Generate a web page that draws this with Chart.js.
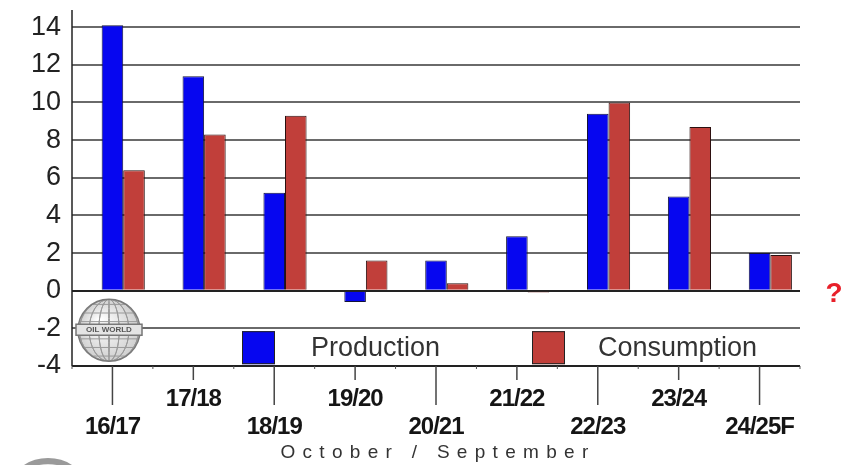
<!DOCTYPE html>
<html>
<head>
<meta charset="utf-8">
<title>Production and Consumption</title>
<script src="https://cdn.jsdelivr.net/npm/chart.js@4.4.1/dist/chart.umd.min.js"></script>
<style>
  html, body { margin: 0; padding: 0; background: #fff; }
  #wrap { position: relative; width: 846px; height: 465px; }
</style>
</head>
<body>
<div id="wrap"><canvas id="chart"></canvas></div>
<script>
// seasons (Oct/Sep) and year-on-year change, mn t
const seasons = ['16/17', '17/18', '18/19', '19/20', '20/21', '21/22', '22/23', '23/24', '24/25F'];
const production = [14.1, 11.4, 5.2, -0.6, 1.6, 2.9, 9.4, 5.0, 2.0];
const consumption = [6.4, 8.3, 9.3, 1.6, 0.4, -0.1, 10.0, 8.7, 1.9];
const yTicks = [-4, -2, 0, 2, 4, 6, 8, 10, 12, 14];
const xTitle = 'October / September';

const BLUE = '#0606f0';
const RED = '#c13f3a';
const FONT = '"Liberation Sans", Arial, sans-serif';

function drawGlobe(ctx, cx, cy, r) {
  ctx.save();
  const g = ctx.createRadialGradient(cx - r * 0.3, cy - r * 0.3, 2, cx, cy, r);
  g.addColorStop(0, '#ffffff');
  g.addColorStop(1, '#cfcfcf');
  ctx.fillStyle = g;
  ctx.beginPath();
  ctx.arc(cx, cy, r, 0, Math.PI * 2);
  ctx.fill();
  ctx.clip();
  ctx.strokeStyle = '#999';
  ctx.lineWidth = 1;
  for (let k = -3; k <= 3; k++) {
    ctx.beginPath();
    ctx.ellipse(cx, cy, Math.abs(k) * r / 3.2 + 0.5, r, 0, 0, Math.PI * 2);
    ctx.stroke();
    ctx.beginPath();
    ctx.moveTo(cx - r, cy + k * r / 3.6);
    ctx.lineTo(cx + r, cy + k * r / 3.6);
    ctx.stroke();
  }
  ctx.restore();
  ctx.save();
  ctx.strokeStyle = '#7a7a7a';
  ctx.lineWidth = 1.5;
  ctx.beginPath();
  ctx.arc(cx, cy, r, 0, Math.PI * 2);
  ctx.stroke();
  // banner across the middle
  ctx.fillStyle = '#e4e4e4';
  ctx.fillRect(cx - r - 2, cy - 6, 2 * r + 4, 11);
  ctx.strokeStyle = '#777';
  ctx.strokeRect(cx - r - 2, cy - 6, 2 * r + 4, 11);
  ctx.fillStyle = '#555';
  ctx.font = 'bold 8px ' + FONT;
  ctx.textAlign = 'center';
  ctx.textBaseline = 'middle';
  ctx.fillText('OIL WORLD', cx, cy);
  ctx.restore();
}

const decor = {
  id: 'decor',
  afterDraw(chart) {
    const { ctx, chartArea: a, scales: { x, y } } = chart;
    const bottom = y.getPixelForValue(yTicks[0]);
    const half = (x.getPixelForValue(1) - x.getPixelForValue(0)) / 2;

    ctx.save();
    // left axis, running a little above the top grid line
    ctx.strokeStyle = '#222';
    ctx.lineWidth = 1.5;
    ctx.beginPath();
    ctx.moveTo(a.left, 10);
    ctx.lineTo(a.left, bottom);
    ctx.stroke();

    // small marks between categories
    ctx.lineWidth = 1;
    ctx.strokeStyle = '#555';
    for (let i = 0; i <= seasons.length; i++) {
      const bx = x.getPixelForValue(0) - half + i * 2 * half;
      ctx.beginPath();
      ctx.moveTo(bx, bottom);
      ctx.lineTo(bx, bottom + 3);
      ctx.stroke();
    }

    // staggered season labels with their drop lines
    ctx.font = 'bold 24px ' + FONT;
    ctx.letterSpacing = '-1px';
    ctx.textAlign = 'center';
    ctx.textBaseline = 'middle';
    seasons.forEach((s, i) => {
      const px = x.getPixelForValue(i);
      const low = i % 2 === 0;
      ctx.strokeStyle = '#444';
      ctx.lineWidth = 1.5;
      ctx.beginPath();
      ctx.moveTo(px, bottom);
      ctx.lineTo(px, bottom + (low ? 39 : 14));
      ctx.stroke();
      ctx.fillStyle = '#151515';
      ctx.fillText(s, px, bottom + (low ? 61 : 33));
    });

    ctx.letterSpacing = '7.3px';
    ctx.font = '19px ' + FONT;
    ctx.fillStyle = '#333';
    ctx.fillText(xTitle, 438, 453);
    ctx.letterSpacing = '0px';

    // legend inside the plot, between -2 and -4
    const ly = y.getPixelForValue(-3);
    const items = [
      { color: BLUE, label: 'Production', box: 242, text: 311 },
      { color: RED, label: 'Consumption', box: 532, text: 598 }
    ];
    ctx.font = '27px ' + FONT;
    ctx.textAlign = 'left';
    items.forEach(it => {
      ctx.fillStyle = it.color;
      ctx.fillRect(it.box, ly - 16, 33, 33);
      ctx.strokeStyle = '#222';
      ctx.lineWidth = 1;
      ctx.strokeRect(it.box + 0.5, ly - 15.5, 32, 32);
      ctx.fillStyle = '#333';
      ctx.fillText(it.label, it.text, ly + 1);
    });

    drawGlobe(ctx, 109, y.getPixelForValue(-2.1), 31);

    // partial logo at the lower left edge
    ctx.fillStyle = '#9a9a9a';
    ctx.beginPath();
    ctx.ellipse(48, 482, 34, 24, 0, 0, Math.PI * 2);
    ctx.fill();
    ctx.fillStyle = '#e6e6e6';
    ctx.beginPath();
    ctx.ellipse(48, 484, 28, 20, 0, 0, Math.PI * 2);
    ctx.fill();

    ctx.fillStyle = '#e8202a';
    ctx.font = 'bold 28px ' + FONT;
    ctx.textAlign = 'center';
    ctx.fillText('?', 834, y.getPixelForValue(0) + 4);
    ctx.restore();
  }
};

new Chart(document.getElementById('chart'), {
  type: 'bar',
  data: {
    labels: seasons,
    datasets: [
      // empty leading slot so each pair sits right of the season mark
      { label: 'spacer', data: [] },
      { label: 'Production', data: production, backgroundColor: BLUE, borderColor: '#14143a', borderWidth: 1, clip: false },
      { label: 'Consumption', data: consumption, backgroundColor: RED, borderColor: '#2a1010', borderWidth: 1, clip: false }
    ]
  },
  options: {
    responsive: true,
    maintainAspectRatio: false,
    animation: false,
    layout: { padding: { top: 27, bottom: 99, left: 0, right: 46 } },
    datasets: { bar: { categoryPercentage: 0.8, barPercentage: 1.0 } },
    plugins: { legend: { display: false }, tooltip: { enabled: false } },
    scales: {
      x: {
        display: false,
        afterFit: s => { s.height = 0; }
      },
      y: {
        min: -4,
        max: 14,
        afterBuildTicks: s => { s.ticks = yTicks.map(v => ({ value: v })); },
        afterFit: s => { s.width = 72; },
        border: { display: false },
        grid: {
          drawTicks: false,
          lineWidth: 2,
          color: c => (c.tick.value === 0 || c.tick.value === -4) ? '#222' : '#6a6a6a'
        },
        ticks: {
          padding: 11,
          color: '#222',
          font: { family: FONT, size: 27 }
        }
      }
    }
  },
  plugins: [decor]
});
</script>
</body>
</html>
